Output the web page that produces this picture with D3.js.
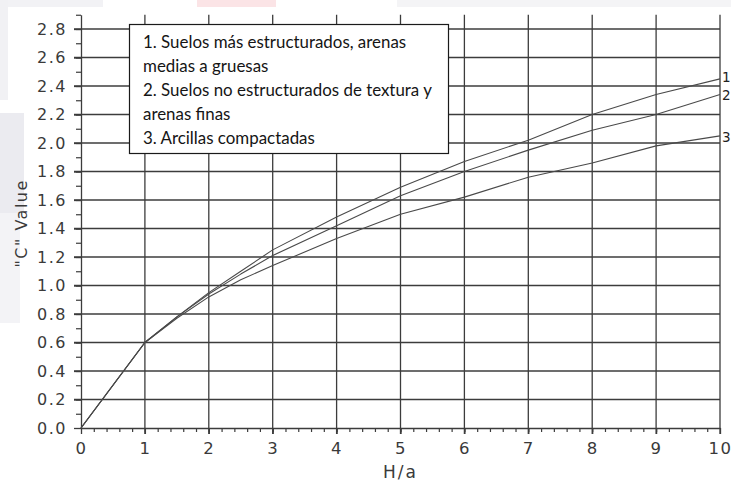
<!DOCTYPE html>
<html>
<head>
<meta charset="utf-8">
<script src="https://cdn.jsdelivr.net/npm/d3@7"></script>
<style>
  html, body { margin: 0; padding: 0; background: #ffffff; }
  svg { display: block; }
</style>
</head>
<body>
<svg id="chart" width="731" height="483"></svg>
<script>
// H/a positions where the curves were sampled
const hOverA = [0, 1, 1.5, 2, 2.5, 3, 4, 5, 6, 7, 8, 9, 10];
// "C" value for each soil class
const curve1 = [0, 0.60, 0.78, 0.95, 1.10, 1.25, 1.48, 1.69, 1.87, 2.02, 2.20, 2.34, 2.45];
const curve2 = [0, 0.60, 0.78, 0.94, 1.08, 1.21, 1.42, 1.63, 1.80, 1.95, 2.09, 2.20, 2.34];
const curve3 = [0, 0.60, 0.77, 0.92, 1.04, 1.14, 1.33, 1.50, 1.62, 1.76, 1.86, 1.98, 2.05];
const curveNames = ["1", "2", "3"];

const xMajorTicks = [0, 1, 2, 3, 4, 5, 6, 7, 8, 9, 10];
const yMajorTicks = [0, 0.2, 0.4, 0.6, 0.8, 1.0, 1.2, 1.4, 1.6, 1.8, 2.0, 2.2, 2.4, 2.6, 2.8];
const legendLines = [
  "1. Suelos más estructurados, arenas",
  "medias a gruesas",
  "2. Suelos no estructurados de textura y",
  "arenas finas",
  "3. Arcillas compactadas"
];
const xTitle = "H/a";
const yTitle = "\"C\" Value";

const svg = d3.select("#chart");

// faint page background blocks
const bg = svg.append("g");
[
  [0, 0, 103, 7, "#f2f2f5"],
  [197, 0, 79, 7, "#fbe4e6"],
  [397, 0, 334, 7, "#f4f4f6"],
  [0, 0, 8, 100, "#f1f1f4"],
  [0, 113, 24, 100, "#ebebf0"],
  [0, 213, 20, 110, "#f3f3f6"]
].forEach(([x0, y0, w, h, c]) => {
  bg.append("rect").attr("x", x0).attr("y", y0).attr("width", w).attr("height", h).attr("fill", c);
});

const x = d3.scaleLinear().domain([0, 10]).range([81, 720]);
const y = d3.scaleLinear().domain([0, 2.9]).range([428, 14.75]);

const gridColor = "#3c3c3c";
const labelColor = "#3a3a3a";
const tickFont = "DejaVu Sans, sans-serif";

// horizontal grid lines
svg.append("g").selectAll("line").data(yMajorTicks.filter(d => d > 0)).join("line")
  .attr("x1", x(0) - 7).attr("x2", x(10))
  .attr("y1", d => y(d)).attr("y2", d => y(d))
  .attr("stroke", gridColor).attr("stroke-width", 1.3);

// vertical grid lines
svg.append("g").selectAll("line").data(xMajorTicks.filter(d => d > 0)).join("line")
  .attr("x1", d => x(d)).attr("x2", d => x(d))
  .attr("y1", y(2.9)).attr("y2", y(0) + 6)
  .attr("stroke", gridColor).attr("stroke-width", 1.3);

// minor ticks
const yMinor = d3.range(1, 30).map(i => i / 10);
svg.append("g")
  .attr("transform", `translate(${x(0)},0)`)
  .call(d3.axisLeft(y).tickValues(yMinor).tickSize(5).tickFormat("").tickSizeOuter(0))
  .call(g => g.select(".domain").remove())
  .call(g => g.selectAll("line").attr("stroke", gridColor).attr("stroke-width", 1.2));
const xMinor = d3.range(1, 50).map(i => i / 5);
svg.append("g")
  .attr("transform", `translate(0,${y(0)})`)
  .call(d3.axisBottom(x).tickValues(xMinor).tickSize(4).tickFormat("").tickSizeOuter(0))
  .call(g => g.select(".domain").remove())
  .call(g => g.selectAll("line").attr("stroke", gridColor).attr("stroke-width", 1.2));

// main axes with labels
svg.append("g")
  .attr("transform", `translate(${x(0)},0)`)
  .call(d3.axisLeft(y).tickValues(yMajorTicks).tickSize(7).tickPadding(7)
    .tickFormat(d3.format(".1f")).tickSizeOuter(0))
  .call(g => g.select(".domain").attr("stroke", gridColor).attr("stroke-width", 1.3))
  .call(g => g.selectAll("line").attr("stroke", gridColor).attr("stroke-width", 1.3))
  .call(g => g.selectAll("text").attr("fill", labelColor)
    .style("font-family", tickFont).style("font-size", "16px").style("letter-spacing", "1.5px"));

svg.append("g")
  .attr("transform", `translate(0,${y(0)})`)
  .call(d3.axisBottom(x).tickValues(xMajorTicks).tickSize(6).tickPadding(8)
    .tickFormat(d3.format("d")).tickSizeOuter(0))
  .call(g => g.select(".domain").attr("stroke", gridColor).attr("stroke-width", 1.3))
  .call(g => g.selectAll("line").attr("stroke", gridColor).attr("stroke-width", 1.3))
  .call(g => g.selectAll("text").attr("fill", labelColor)
    .style("font-family", tickFont).style("font-size", "16.5px").style("letter-spacing", "1.5px"));

// axis titles
svg.append("text")
  .attr("x", (x(0) + x(10)) / 2).attr("y", 478)
  .attr("text-anchor", "middle")
  .attr("fill", labelColor)
  .style("font-family", tickFont).style("font-size", "17px").style("letter-spacing", "2px")
  .text(xTitle);

svg.append("text")
  .attr("transform", `translate(27,${(y(0) + y(2.9)) / 2 + 2}) rotate(-90)`)
  .attr("text-anchor", "middle")
  .attr("fill", labelColor)
  .style("font-family", tickFont).style("font-size", "16px").style("letter-spacing", "1.5px")
  .text(yTitle);

// curves
const series = [curve1, curve2, curve3];
const line = d3.line()
  .x((d, i) => x(hOverA[i]))
  .y(d => y(d))
  .curve(d3.curveLinear);

svg.append("g").selectAll("path").data(series).join("path")
  .attr("d", d => line(d))
  .attr("fill", "none")
  .attr("stroke", "#4a4a4a")
  .attr("stroke-width", 1.1)
  .attr("stroke-linejoin", "round");

// end labels
svg.append("g").selectAll("text").data(series).join("text")
  .attr("x", x(10) + 2)
  .attr("y", (d, i) => y(d[d.length - 1]) + (i === 0 ? -2 : 1))
  .attr("dy", "0.36em")
  .attr("fill", "#222")
  .style("font-family", tickFont).style("font-size", "13.5px")
  .text((d, i) => curveNames[i]);

// legend box
const legend = svg.append("g");
legend.append("rect")
  .attr("x", 129.5).attr("y", 24.5)
  .attr("width", 319).attr("height", 129)
  .attr("fill", "#ffffff").attr("stroke", "#1a1a1a").attr("stroke-width", 1.2);

const legendText = legend.selectAll("text").data(legendLines).join("text")
  .attr("x", 143)
  .attr("y", (d, i) => 48 + i * 24)
  .attr("fill", "#151515")
  .style("font-family", "Lato, 'Open Sans', sans-serif")
  .style("font-size", "15px")
  .text(d => d);

// size the legend font so the longest line spans the box width
const widest = d3.max(legendText.nodes(), n => n.getComputedTextLength());
const legendSize = 15 * 289 / widest;
legendText.style("font-size", legendSize.toFixed(2) + "px");
</script>
</body>
</html>
